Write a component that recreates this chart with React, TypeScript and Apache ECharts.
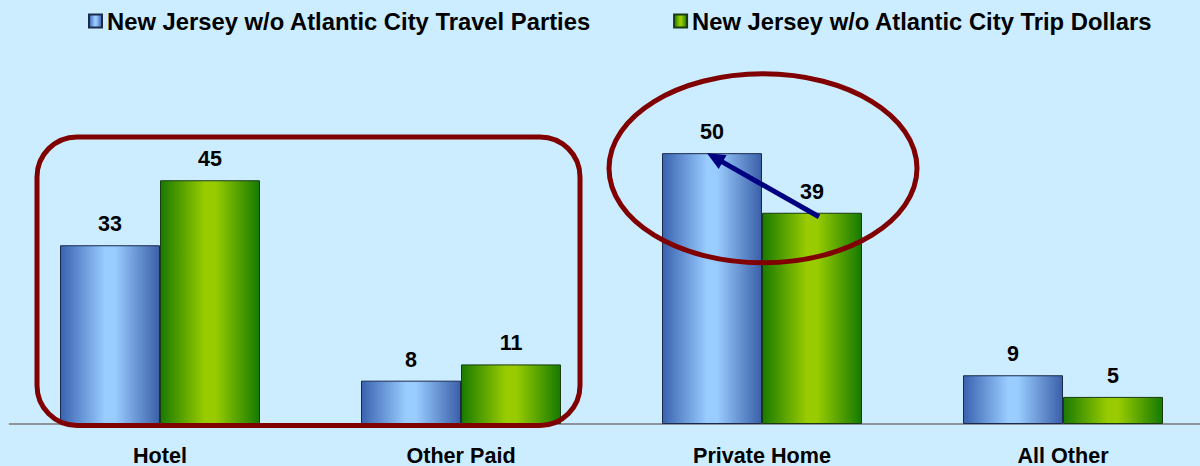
import React, { useEffect, useRef } from "react";
import * as echarts from "echarts";

const categories = ["Hotel", "Other Paid", "Private Home", "All Other"];
const seriesNames = [
  "New Jersey w/o Atlantic City Travel Parties",
  "New Jersey w/o Atlantic City Trip Dollars",
];
const travelParties = [33, 8, 50, 9];
const tripDollars = [45, 11, 39, 5];

const blueGrad = new echarts.graphic.LinearGradient(0, 0, 1, 0, [
  { offset: 0, color: "#3A62B0" },
  { offset: 0.45, color: "#99CCFF" },
  { offset: 0.55, color: "#99CCFF" },
  { offset: 1, color: "#3A5FA8" },
]);
const greenGrad = new echarts.graphic.LinearGradient(0, 0, 1, 0, [
  { offset: 0, color: "#1A7A00" },
  { offset: 0.45, color: "#99CC00" },
  { offset: 0.55, color: "#99CC00" },
  { offset: 1, color: "#157A00" },
]);

const FONT = "'Liberation Sans', Arial, sans-serif";

export default function App() {
  const ref = useRef<HTMLDivElement>(null);
  useEffect(() => {
    document.body.style.margin = "0";
    const chart = echarts.init(ref.current!, null, { renderer: "svg" });
    const labelStyle = {
      show: true,
      position: "top" as const,
      distance: 10,
      fontFamily: FONT,
      fontWeight: "bold" as const,
      fontSize: 21.5,
      color: "#000",
    };
    chart.setOption({
      animation: false,
      backgroundColor: "#CCECFF",
      legend: {
        left: 83,
        top: 4,
        itemWidth: 13,
        itemHeight: 13,
        itemGap: 82,
        icon: "rect",
        textStyle: {
          fontFamily: FONT,
          fontWeight: "bold",
          fontSize: 23.8,
          color: "#000",
        },
        data: seriesNames,
      },
      grid: {
        left: 9.5,
        width: 1204,
        top: 99,
        bottom: 42,
        outerBoundsMode: "none",
        containLabel: false,
      },
      xAxis: {
        type: "category",
        data: categories,
        axisLine: { lineStyle: { color: "#777", width: 1.5 } },
        axisTick: { show: false },
        axisLabel: {
          margin: 20,
          fontFamily: FONT,
          fontWeight: "bold",
          fontSize: 21.6,
          color: "#000",
        },
      },
      yAxis: { type: "value", min: 0, max: 60, show: false },
      series: [
        {
          name: seriesNames[0],
          type: "bar",
          data: travelParties,
          barWidth: 100,
          barGap: "0%",
          itemStyle: { color: blueGrad, borderColor: "#1a2a4a", borderWidth: 1 },
          label: labelStyle,
        },
        {
          name: seriesNames[1],
          type: "bar",
          data: tripDollars,
          barWidth: 100,
          barGap: "0%",
          itemStyle: { color: greenGrad, borderColor: "#1a3a10", borderWidth: 1 },
          label: labelStyle,
        },
      ],
    });

    const px = (cat: string, v: number) =>
      chart.convertToPixel({ gridIndex: 0 }, [cat, v]) as number[];
    const hotel = px("Hotel", 0);
    const otherPaid = px("Other Paid", 0);
    const rectTop = px("Hotel", 53)[1];
    const axisY = hotel[1];
    const ph = px("Private Home", 47.2);
    const tail = px("Private Home", tripDollars[2]);
    const tip = px("Private Home", travelParties[2]);
    const tx = tail[0] + 57;
    const ty = tail[1] + 4;
    const hx = tip[0] - 55;
    const hy = tip[1];
    const dx = hx - tx;
    const dy = hy - ty;
    const len = Math.sqrt(dx * dx + dy * dy);
    const ux = dx / len;
    const uy = dy / len;
    const headLen = 18;
    const headW = 8;
    const bx = hx - ux * headLen;
    const by = hy - uy * headLen;

    chart.setOption({
      graphic: [
        {
          type: "rect",
          z: 100,
          shape: {
            x: hotel[0] - 123,
            y: rectTop,
            width: otherPaid[0] + 119 - (hotel[0] - 123),
            height: axisY + 1.5 - rectTop,
            r: 40,
          },
          style: { fill: "none", stroke: "#800000", lineWidth: 5 },
        },
        {
          type: "ellipse",
          z: 100,
          shape: { cx: ph[0] + 1, cy: ph[1], rx: 154, ry: 94.5 },
          style: { fill: "none", stroke: "#800000", lineWidth: 5 },
        },
        {
          type: "line",
          z: 101,
          shape: { x1: tx, y1: ty, x2: bx + ux * 2, y2: by + uy * 2 },
          style: { stroke: "#000080", lineWidth: 5 },
        },
        {
          type: "polygon",
          z: 101,
          shape: {
            points: [
              [hx, hy],
              [bx - uy * headW, by + ux * headW],
              [bx + uy * headW, by - ux * headW],
            ],
          },
          style: { fill: "#000080" },
        },
      ],
    });
    return () => chart.dispose();
  }, []);
  return (
    <div
      ref={ref}
      style={{ position: "absolute", left: 0, top: 0, width: 1200, height: 466 }}
    />
  );
}
